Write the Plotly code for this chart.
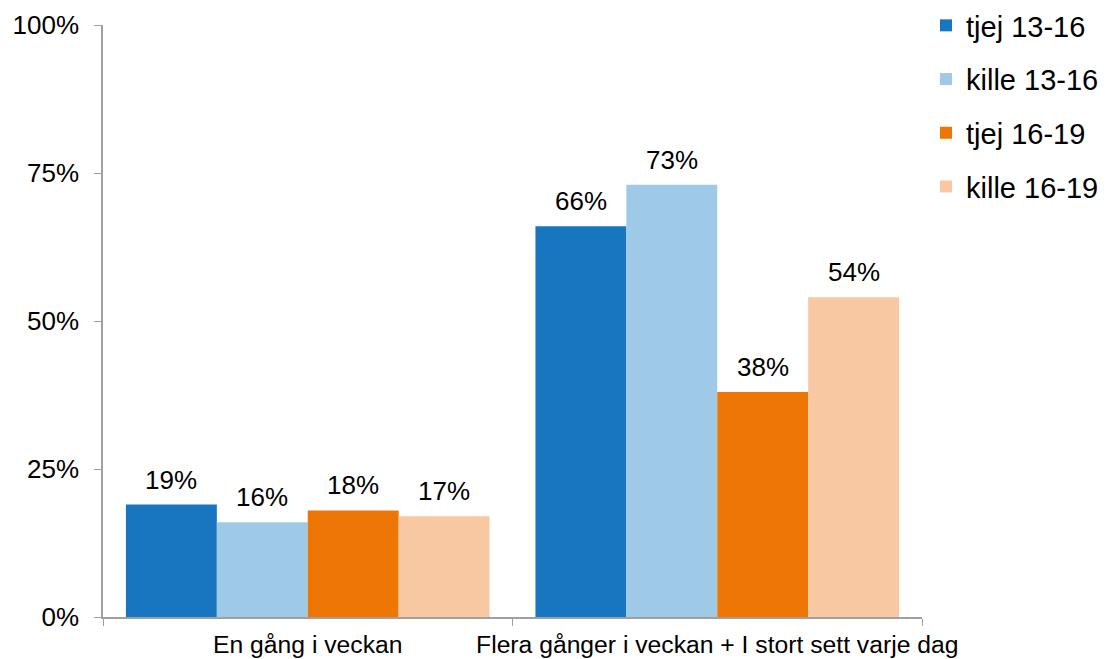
import plotly.graph_objects as go

categories = ["En gång i veckan", "Flera gånger i veckan + I stort sett varje dag"]
series_names = ["tjej 13-16", "kille 13-16", "tjej 16-19", "kille 16-19"]
tjej_13_16 = [19, 66]
kille_13_16 = [16, 73]
tjej_16_19 = [18, 38]
kille_16_19 = [17, 54]
y_ticks = [0, 25, 50, 75, 100]

colors = ["#1776BF", "#9FCAE7", "#EE7604", "#F8C8A2"]
values = [tjej_13_16, kille_13_16, tjej_16_19, kille_16_19]

FONT = "Liberation Sans, Arial, sans-serif"
W, H = 1109, 659
BARGAP = 0.112

fig = go.Figure()
for name, vals, col in zip(series_names, values, colors):
    fig.add_trace(go.Bar(
        name=name,
        x=categories,
        y=vals,
        marker=dict(color=col, line=dict(width=0)),
        legendgroup=name,
    ))

# value labels above each bar, placed at the grouped bar centres
n = len(series_names)
bar_w = (1 - BARGAP) / n
annotations = []
for j, vals in enumerate(values):
    offset = (j - (n - 1) / 2) * bar_w
    for i, v in enumerate(vals):
        annotations.append(dict(
            x=i + offset, y=v, xref="x", yref="y",
            text=f"{v}%", showarrow=False,
            yanchor="bottom", yshift=8,
            font=dict(family=FONT, size=26, color="#000000"),
        ))

fig.update_layout(
    width=W,
    height=H,
    margin=dict(l=103, r=187, t=25, b=42, autoexpand=False),
    paper_bgcolor="white",
    plot_bgcolor="white",
    barmode="group",
    bargap=BARGAP,
    bargroupgap=0,
    font=dict(family=FONT, size=25, color="#000000"),
    annotations=annotations,
    legend=dict(
        xref="container", yref="container",
        x=926 / W, y=1 + 1 / H, xanchor="left", yanchor="top",
        font=dict(family=FONT, size=29, color="#000000"),
        tracegroupgap=13,
        itemwidth=30,
        bgcolor="rgba(0,0,0,0)",
    ),
    xaxis=dict(
        showline=True, linecolor="#A0A0A0", linewidth=1.5,
        ticks="outside", tickson="boundaries", ticklen=7, tickcolor="#A0A0A0",
        tickfont=dict(family=FONT, size=24.7, color="#000000"),
        tickangle=0, automargin=False, ticklabelstandoff=5,
        showgrid=False,
    ),
    yaxis=dict(
        range=[0, 100],
        tickvals=y_ticks,
        ticktext=[f"{t}%" for t in y_ticks],
        showline=True, linecolor="#A0A0A0", linewidth=1.5,
        ticks="outside", ticklen=7, tickcolor="#A0A0A0",
        tickfont=dict(family=FONT, size=26, color="#000000"),
        ticklabelstandoff=10, automargin=False,
        showgrid=False, zeroline=False,
    ),
)

fig.write_html("out.html")
